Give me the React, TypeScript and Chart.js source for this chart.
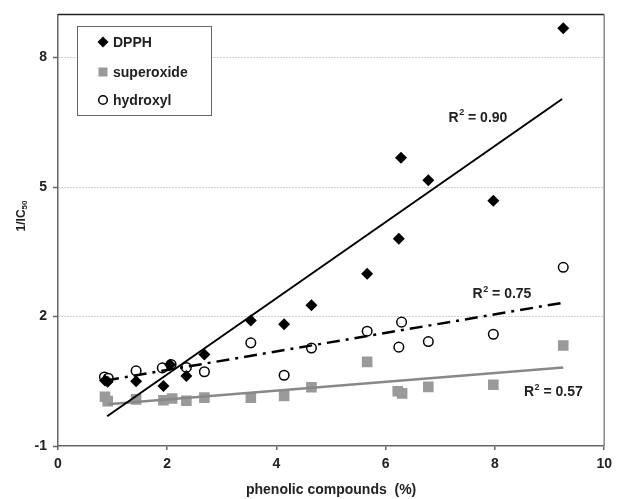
import React, { useEffect, useRef } from 'react';
import { Chart, registerables } from 'chart.js';

Chart.register(...registerables);

const xTicks = [0, 2, 4, 6, 8, 10];
const yTicks = [-1, 2, 5, 8];

const seriesNames = ['DPPH', 'superoxide', 'hydroxyl'];

const dpphX = [0.86, 0.91, 1.43, 1.93, 2.05, 2.35, 2.68, 3.53, 4.14, 4.64, 5.66, 6.24, 6.28, 6.78, 7.97, 9.25];
const dpphY = [0.52, 0.49, 0.5, 0.39, 0.88, 0.62, 1.12, 1.91, 1.82, 2.26, 2.99, 3.8, 5.68, 5.16, 4.68, 8.68];

const superoxideX = [0.86, 0.91, 1.43, 1.93, 2.09, 2.35, 2.68, 3.53, 4.14, 4.64, 5.66, 6.22, 6.3, 6.78, 7.97, 9.25];
const superoxideY = [0.14, 0.04, 0.08, 0.06, 0.1, 0.05, 0.12, 0.12, 0.16, 0.36, 0.95, 0.27, 0.22, 0.37, 0.42, 1.33];

const hydroxylX = [0.85, 0.92, 1.43, 1.91, 2.07, 2.35, 2.68, 3.53, 4.14, 4.64, 5.66, 6.24, 6.29, 6.78, 7.97, 9.25];
const hydroxylY = [0.6, 0.57, 0.74, 0.81, 0.89, 0.82, 0.72, 1.39, 0.64, 1.27, 1.66, 1.29, 1.87, 1.42, 1.59, 3.14];

// trend lines (end points)
const dpphTrendX = [0.9, 9.23];
const dpphTrendY = [-0.31, 7.04];
const superoxideTrendX = [0.91, 9.25];
const superoxideTrendY = [-0.03, 0.82];
const hydroxylTrendX = [0.88, 9.25];
const hydroxylTrendY = [0.52, 2.32];

const r2Labels = ['0.90', '0.75', '0.57'];
const r2AnchorX = [7.15, 7.59, 8.53];
const r2AnchorY = [6.6, 2.51, 0.25];

const FONT = '"Liberation Sans", Arial, sans-serif';
const GRAY_MARK = '#9a9a9a';
const GRAY_LINE = '#888888';

const zip = (xs: number[], ys: number[]) => xs.map((x, i) => ({ x, y: ys[i] }));

const overlayPlugin = {
  id: 'overlay',
  afterDraw(chart: any) {
    const ctx: CanvasRenderingContext2D = chart.ctx;
    const { left, right, top, bottom } = chart.chartArea;
    const xs = chart.scales.x;
    const ys = chart.scales.y;
    ctx.save();
    // top and right borders
    ctx.lineWidth = 1.5;
    ctx.strokeStyle = '#222';
    ctx.beginPath();
    ctx.moveTo(left, top);
    ctx.lineTo(right, top);
    ctx.stroke();
    ctx.strokeStyle = '#888';
    ctx.beginPath();
    ctx.moveTo(right, top);
    ctx.lineTo(right, bottom);
    ctx.stroke();

    // R² labels
    ctx.fillStyle = '#222';
    ctx.textBaseline = 'middle';
    ctx.textAlign = 'left';
    r2Labels.forEach((lab, i) => {
      let px = xs.getPixelForValue(r2AnchorX[i]);
      const py = ys.getPixelForValue(r2AnchorY[i]);
      ctx.font = `bold 14px ${FONT}`;
      ctx.fillText('R', px, py);
      px += ctx.measureText('R').width;
      ctx.font = `bold 9px ${FONT}`;
      ctx.fillText('2', px + 0.5, py - 5);
      px += ctx.measureText('2').width + 0.5;
      ctx.font = `bold 14px ${FONT}`;
      ctx.fillText(' = ' + lab, px, py);
    });

    // x title
    ctx.font = `bold 14px ${FONT}`;
    ctx.textAlign = 'center';
    ctx.fillText('phenolic compounds  (%)', (left + right) / 2, 490);

    // y title
    ctx.save();
    ctx.translate(22, 216);
    ctx.rotate(-Math.PI / 2);
    ctx.font = `bold 12px ${FONT}`;
    const w1 = ctx.measureText('1/IC').width;
    ctx.font = `bold 8px ${FONT}`;
    const w2 = ctx.measureText('50').width;
    const sx = -(w1 + w2) / 2;
    ctx.textAlign = 'left';
    ctx.font = `bold 12px ${FONT}`;
    ctx.fillText('1/IC', sx, 0);
    ctx.font = `bold 8px ${FONT}`;
    ctx.fillText('50', sx + w1, 3);
    ctx.restore();

    // legend
    const bx = 77.5, by = 26.5, bw = 134, bh = 89;
    ctx.fillStyle = '#fff';
    ctx.fillRect(bx, by, bw, bh);
    ctx.strokeStyle = '#666';
    ctx.lineWidth = 1;
    ctx.strokeRect(bx, by, bw, bh);
    const rows = [42, 72, 100];
    const mx = 103;
    // diamond
    ctx.fillStyle = '#000';
    ctx.beginPath();
    ctx.moveTo(mx, rows[0] - 5.5);
    ctx.lineTo(mx + 5.5, rows[0]);
    ctx.lineTo(mx, rows[0] + 5.5);
    ctx.lineTo(mx - 5.5, rows[0]);
    ctx.closePath();
    ctx.fill();
    // square
    ctx.fillStyle = GRAY_MARK;
    ctx.fillRect(mx - 4.5, rows[1] - 4.5, 9, 9);
    // circle
    ctx.fillStyle = '#fff';
    ctx.strokeStyle = '#000';
    ctx.lineWidth = 1.5;
    ctx.beginPath();
    ctx.arc(mx, rows[2], 4.3, 0, Math.PI * 2);
    ctx.fill();
    ctx.stroke();
    ctx.fillStyle = '#222';
    ctx.font = `bold 14px ${FONT}`;
    ctx.textAlign = 'left';
    ctx.textBaseline = 'middle';
    seriesNames.forEach((n, i) => ctx.fillText(n, 113, rows[i] + 1));
    ctx.restore();
  },
};

export default function App() {
  const ref = useRef<HTMLCanvasElement>(null);
  useEffect(() => {
    document.body.style.margin = '0';
    const canvas = ref.current!;
    const chart = new Chart(canvas, {
      type: 'scatter',
      data: {
        datasets: [
          {
            type: 'line',
            label: 'dpph trend',
            data: zip(dpphTrendX, dpphTrendY),
            borderColor: '#000',
            borderWidth: 2,
            pointRadius: 0,
            fill: false,
            order: 0,
          } as any,
          {
            type: 'line',
            label: 'hydroxyl trend',
            data: zip(hydroxylTrendX, hydroxylTrendY),
            borderColor: '#000',
            borderWidth: 2.5,
            borderDash: [13, 6, 3, 6],
            pointRadius: 0,
            fill: false,
            order: 0,
          } as any,
          {
            type: 'line',
            label: 'superoxide trend',
            data: zip(superoxideTrendX, superoxideTrendY),
            borderColor: GRAY_LINE,
            borderWidth: 2.5,
            pointRadius: 0,
            fill: false,
            order: 0,
          } as any,
          {
            label: seriesNames[0],
            data: zip(dpphX, dpphY),
            pointStyle: 'rectRot',
            pointRadius: 6,
            backgroundColor: '#000',
            borderColor: '#000',
            borderWidth: 0,
            order: 1,
          },
          {
            label: seriesNames[1],
            data: zip(superoxideX, superoxideY),
            pointStyle: 'rect',
            pointRadius: 7.5,
            backgroundColor: GRAY_MARK,
            borderColor: GRAY_MARK,
            borderWidth: 0,
            order: 2,
          },
          {
            label: seriesNames[2],
            data: zip(hydroxylX, hydroxylY),
            pointStyle: 'circle',
            pointRadius: 4.8,
            backgroundColor: '#fff',
            borderColor: '#000',
            borderWidth: 1.5,
            order: 3,
          },
        ],
      },
      options: {
        animation: false,
        responsive: false,
        devicePixelRatio: 1,
        layout: { padding: { top: 13, right: 9, left: 0, bottom: 0 } },
        plugins: { legend: { display: false }, tooltip: { enabled: false } },
        scales: {
          x: {
            type: 'linear',
            min: 0,
            max: 10,
            afterFit: (s: any) => {
              s.height = 53;
            },
            afterBuildTicks: (s: any) => {
              s.ticks = xTicks.map((v) => ({ value: v }));
            },
            grid: { drawOnChartArea: false, tickLength: 4, color: '#666', lineWidth: 1.5 },
            border: { color: '#666', width: 1.5 },
            ticks: { padding: 6, color: '#222', font: { family: FONT, size: 14, weight: 'bold' }, maxRotation: 0 },
          },
          y: {
            type: 'linear',
            min: -1,
            max: 9,
            afterFit: (s: any) => {
              s.width = 58;
            },
            afterBuildTicks: (s: any) => {
              s.ticks = yTicks.map((v) => ({ value: v }));
            },
            grid: {
              color: (c: any) => (c.tick && c.tick.value === -1 ? 'rgba(0,0,0,0)' : '#a0a0a0'),
              tickColor: '#666',
              tickLength: 5,
              lineWidth: 1,
              tickWidth: 1.5,
            },
            border: { color: '#666', width: 1.5, dash: [1, 2] },
            ticks: { padding: 6, color: '#222', font: { family: FONT, size: 14, weight: 'bold' } },
          },
        },
      },
      plugins: [overlayPlugin],
    } as any);
    return () => chart.destroy();
  }, []);
  return <canvas ref={ref} width={618} height={499} style={{ display: 'block' }} />;
}
